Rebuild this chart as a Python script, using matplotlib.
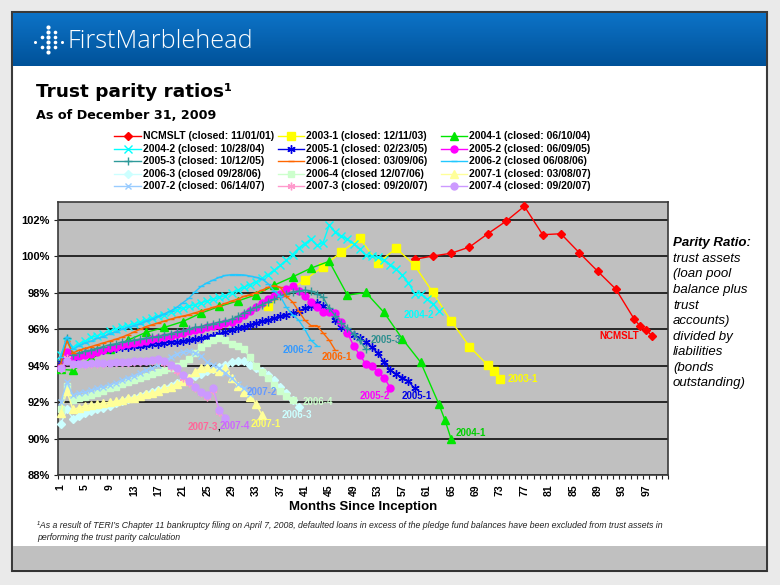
import numpy as np
import matplotlib
matplotlib.use("Agg")
import matplotlib.pyplot as plt
from matplotlib.lines import Line2D
from matplotlib.patches import Rectangle
from matplotlib.ticker import FixedLocator, FuncFormatter

# ---------------- DATA (percent values, month since inception) ----------------
ncmslt_months = [59, 62, 65, 68, 71, 74, 77, 80, 83, 86, 89, 92, 95, 96, 97, 98]
ncmslt_vals = [99.84, 100.02, 100.17, 100.51, 101.24, 101.93, 102.75, 101.19, 101.24,
               100.20, 99.19, 98.20, 96.56, 96.16, 95.96, 95.61]

s2003_1_months = [35, 41, 44, 47, 50, 53, 56, 59, 62, 65, 68, 71, 72, 73]
s2003_1_vals = [97.29, 98.71, 99.44, 100.24, 100.99, 99.64, 100.44, 99.51, 98.02,
                96.45, 95.05, 94.03, 93.72, 93.25]

s2004_1_months = [1, 3, 6, 9, 12, 15, 18, 21, 24, 27, 30, 33, 36, 39, 42, 45, 48, 51,
                  54, 57, 60, 63, 64, 65]
s2004_1_vals = [93.8, 93.75, 94.4, 94.9, 95.4, 95.83, 96.1, 96.42, 96.89, 97.25, 97.55,
                97.89, 98.42, 98.87, 99.35, 99.73, 97.87, 98.02, 96.92, 95.47, 94.19,
                91.88, 91.0, 89.97]

s2004_2_vals = [94.6, 95.3, 95.0, 95.2, 95.35, 95.55, 95.65, 95.75, 95.9, 96.0,
                96.1, 96.2, 96.3, 96.4, 96.5, 96.6, 96.7, 96.8, 96.95, 97.05,
                97.15, 97.25, 97.35, 97.45, 97.55, 97.65, 97.75, 97.85, 98.0, 98.15,
                98.3, 98.45, 98.6, 98.8, 99.0, 99.25, 99.5, 99.8, 100.1, 100.45,
                100.7, 100.95, 100.6, 100.75, 101.7, 101.35, 101.1, 100.95, 100.7, 100.4,
                100.05, 100.0, 99.95, 99.8, 99.55, 99.3, 98.95, 98.55, 97.95, 97.95,
                97.65, 97.4, 97.0]

s2005_1_vals = [94.2, 94.6, 94.4, 94.55, 94.7, 94.75, 94.8, 94.85, 94.9, 94.95,
                95.0, 95.05, 95.1, 95.1, 95.15, 95.2, 95.2, 95.25, 95.3, 95.3,
                95.35, 95.4, 95.45, 95.5, 95.6, 95.65, 95.75, 95.85, 95.95, 96.05,
                96.15, 96.25, 96.35, 96.45, 96.5, 96.6, 96.7, 96.8, 96.9, 97.0,
                97.15, 97.3, 97.45, 97.3, 97.0, 96.5, 96.1, 95.9, 95.7, 95.5,
                95.3, 95.0, 94.7, 94.2, 93.75, 93.55, 93.35, 93.15, 92.75]

s2005_2_vals = [93.95, 94.75, 94.45, 94.55, 94.6, 94.65, 94.75, 94.85, 94.95, 95.05,
                95.15, 95.2, 95.25, 95.3, 95.35, 95.45, 95.5, 95.55, 95.65, 95.75,
                95.8, 95.9, 95.95, 96.0, 96.1, 96.2, 96.25, 96.35, 96.4, 96.55,
                96.8, 97.0, 97.2, 97.45, 97.65, 97.8, 97.95, 98.2, 98.38, 98.1,
                97.8, 97.5, 97.2, 96.95, 96.92, 96.9, 96.4, 95.8, 95.1, 94.6,
                94.1, 94.0, 93.65, 93.35, 92.8]

s2005_3_vals = [94.3, 95.5, 94.6, 94.7, 94.8, 94.85, 94.95, 95.05, 95.15, 95.2,
                95.3, 95.35, 95.4, 95.45, 95.5, 95.55, 95.6, 95.7, 95.75, 95.85,
                95.9, 96.0, 96.1, 96.15, 96.25, 96.3, 96.4, 96.45, 96.55, 96.7,
                96.9, 97.05, 97.2, 97.35, 97.5, 97.65, 97.8, 97.95, 98.05, 98.1,
                98.15, 98.1, 97.95, 97.75, 97.15, 96.75, 96.35, 96.05, 95.75, 95.4,
                94.9]

s2006_1_vals = [94.1, 95.35, 94.7, 94.85, 94.95, 95.05, 95.15, 95.25, 95.35, 95.45,
                95.56, 95.7, 95.85, 96.0, 96.15, 96.25, 96.35, 96.45, 96.55, 96.65,
                96.72, 96.8, 96.9, 97.0, 97.1, 97.2, 97.3, 97.42, 97.55, 97.65,
                97.8, 97.9, 98.0, 98.15, 98.3, 98.4, 98.3, 97.8, 97.5, 97.0,
                96.5, 96.2, 96.2, 95.8, 95.4, 94.85]

s2006_2_vals = [94.5, 95.6, 94.9, 95.1, 95.25, 95.35, 95.5, 95.6, 95.75, 95.85,
                96.0, 96.1, 96.2, 96.3, 96.45, 96.55, 96.7, 96.85, 97.0, 97.2,
                97.45, 97.7, 98.05, 98.35, 98.55, 98.7, 98.85, 98.95, 99.0, 99.0,
                98.98, 98.92, 98.85, 98.75, 98.5, 98.1, 97.8, 97.2, 96.8, 96.5,
                96.0, 95.4, 95.1]

s2006_3_vals = [90.8, 91.6, 91.1, 91.25, 91.4, 91.5, 91.6, 91.7, 91.8, 91.95,
                92.05, 92.15, 92.25, 92.35, 92.45, 92.55, 92.65, 92.8, 92.9, 93.05,
                93.2, 93.35, 93.45, 93.55, 93.7, 93.8, 93.95, 94.05, 94.2, 94.28,
                94.28, 94.05, 93.85, 93.7, 93.5, 93.2, 92.85, 92.5, 92.1, 91.75]

s2006_4_vals = [91.6, 92.9, 92.1, 92.2, 92.3, 92.4, 92.5, 92.6, 92.75, 92.85,
                93.0, 93.1, 93.2, 93.3, 93.45, 93.55, 93.65, 93.75, 93.9, 94.0,
                94.15, 94.35, 94.7, 95.0, 95.25, 95.4, 95.5, 95.4, 95.2, 95.1,
                94.9, 94.45, 94.0, 93.65, 93.3, 92.95, 92.6, 92.35, 92.1]

s2007_1_vals = [91.4, 92.6, 91.6, 91.7, 91.8, 91.85, 91.9, 91.95, 92.0, 92.05,
                92.1, 92.2, 92.25, 92.35, 92.45, 92.5, 92.6, 92.75, 92.85, 93.0,
                93.15, 93.35, 93.65, 93.9, 93.95, 93.85, 93.7, 93.85, 93.3, 92.9,
                92.55, 92.3, 91.9, 91.3]

s2007_2_vals = [92.0, 93.1, 92.4, 92.5, 92.55, 92.65, 92.75, 92.85, 92.95, 93.05,
                93.2, 93.35, 93.45, 93.6, 93.75, 93.9, 94.05, 94.25, 94.45, 94.65,
                94.75, 94.8, 94.7, 94.55, 94.2, 94.05, 93.85, 93.6, 93.3, 93.0,
                92.75, 92.45]

s2007_3_vals = [93.8, 94.4, 94.05, 94.05, 94.05, 94.07, 94.1, 94.1, 94.12, 94.13,
                94.15, 94.17, 94.2, 94.22, 94.24, 94.26, 94.3, 94.15, 93.95, 93.7,
                93.35, 93.05, 92.75, 92.5, 92.3, 92.65, 91.45, 91.1]

s2007_4_vals = [93.85, 94.25, 94.1, 94.1, 94.1, 94.12, 94.14, 94.15, 94.16, 94.18,
                94.2, 94.22, 94.24, 94.26, 94.28, 94.3, 94.38, 94.25, 94.05, 93.85,
                93.5, 93.15, 92.85, 92.55, 92.4, 92.75, 91.55, 91.15]

legend_labels = [
    "NCMSLT (closed: 11/01/01)", "2003-1 (closed: 12/11/03)", "2004-1 (closed: 06/10/04)",
    "2004-2 (closed: 10/28/04)", "2005-1 (closed: 02/23/05)", "2005-2 (closed: 06/09/05)",
    "2005-3 (closed: 10/12/05)", "2006-1 (closed: 03/09/06)", "2006-2 (closed 06/08/06)",
    "2006-3 (closed 09/28/06)", "2006-4 (closed 12/07/06)", "2007-1 (closed: 03/08/07)",
    "2007-2 (closed: 06/14/07)", "2007-3 (closed: 09/20/07)", "2007-4 (closed: 09/20/07)",
]
short_names = ["NCMSLT", "2003-1", "2004-1", "2004-2", "2005-1", "2005-2", "2005-3",
               "2006-1", "2006-2", "2006-3", "2006-4", "2007-1", "2007-2", "2007-3", "2007-4"]

y_ticks = [88, 90, 92, 94, 96, 98, 100, 102]
x_tick_months = list(range(1, 98, 4))

def monthly(v):
    return list(range(1, len(v) + 1))

series_x = [ncmslt_months, s2003_1_months, s2004_1_months, monthly(s2004_2_vals),
            monthly(s2005_1_vals), monthly(s2005_2_vals), monthly(s2005_3_vals),
            monthly(s2006_1_vals), monthly(s2006_2_vals), monthly(s2006_3_vals),
            monthly(s2006_4_vals), monthly(s2007_1_vals), monthly(s2007_2_vals),
            monthly(s2007_3_vals), monthly(s2007_4_vals)]
series_y = [ncmslt_vals, s2003_1_vals, s2004_1_vals, s2004_2_vals, s2005_1_vals,
            s2005_2_vals, s2005_3_vals, s2006_1_vals, s2006_2_vals, s2006_3_vals,
            s2006_4_vals, s2007_1_vals, s2007_2_vals, s2007_3_vals, s2007_4_vals]

# ---------------- STYLE ----------------
AST = (6, 2, 0)
styles = [
    dict(color="#FF0000", marker="D", ms=4.2),
    dict(color="#FFFF00", marker="s", ms=5.5),
    dict(color="#00E600", marker="^", ms=6),
    dict(color="#00FFFF", marker="x", ms=5.5),
    dict(color="#0000E6", marker=AST, ms=6),
    dict(color="#FF00FF", marker="o", ms=5),
    dict(color="#2E9A9A", marker="+", ms=6),
    dict(color="#FF6600", marker="_", ms=5),
    dict(color="#22C8FF", marker="_", ms=5),
    dict(color="#CCFFFF", marker="D", ms=4),
    dict(color="#CCFFCC", marker="s", ms=4.8),
    dict(color="#FFFF99", marker="^", ms=5.5),
    dict(color="#99CCFF", marker="x", ms=5),
    dict(color="#FF99CC", marker=AST, ms=5.5),
    dict(color="#CC99FF", marker="o", ms=5),
]
label_colors = ["#FF0000", "#FFFF00", "#00D000", "#00FFFF", "#0000E6", "#FF00FF", "#2E8F8F",
                "#FF6600", "#3399FF", "#CCFFFF", "#CCFFCC", "#FFFF66", "#6699FF", "#FF6699", "#CC66FF"]
# label offsets in pixels relative to last point (dx, dy), alignment
label_pos = [(-13, 0, "right"), (8, 0, "left"), (4, 6, "left"), (-20, -4, "center"),
             (2, -8, "center"), (-15, -8, "center"), (20, 9, "center"), (2, -7, "center"),
             (-19, -4, "center"), (-2, -8, "center"), (25, -2, "center"), (4, -9, "center"),
             (12, 2, "center"), (-23, -8, "center"), (9, -8, "center")]

W, H = 780, 585
fig = plt.figure(figsize=(7.8, 5.85), dpi=100)
fig.patch.set_facecolor("#EAEAEA")

def fx(x):
    return x / W

def fy(y):
    return 1 - y / H

def rect(x0, y0, x1, y1, z=-10, **kw):
    fig.add_artist(Rectangle((fx(x0), fy(y1)), fx(x1) - fx(x0), fy(y0) - fy(y1),
                             transform=fig.transFigure, zorder=z, **kw))

# slide frame
rect(12, 12, 767, 571, facecolor="white", edgecolor="#3A3A3A", lw=1.5)
rect(13, 546, 766, 569.5, facecolor="#C0C0C0", edgecolor="none")
rect(12, 569.5, 767, 572, facecolor="#333333", edgecolor="none")

# banner gradient
bax = fig.add_axes([fx(13), fy(66), fx(766) - fx(13), fy(13) - fy(66)])
grad = np.linspace(0, 1, 100)[:, None]
top = np.array([0.05, 0.45, 0.78])
bot = np.array([0.0, 0.32, 0.60])
img = top[None, None, :] * (1 - grad[:, :, None]) + bot[None, None, :] * grad[:, :, None]
bax.imshow(img, aspect="auto", extent=[0, 1, 0, 1])
bax.set_axis_off()

# logo dots
dots = [(35, 41.7, 2.2), (41.7, 36.7, 2.6), (41.7, 46.7, 2.6)]
for yy in [26.7, 31.7, 36.7, 41.7, 46.7, 51.7]:
    dots.append((48.3, yy, 3.0))
for yy in [31.7, 36.7, 41.7, 46.7]:
    dots.append((55, yy, 2.6))
dots.append((61.7, 41.7, 2.2))
for (dx_, dy_, s_) in dots:
    fig.add_artist(Line2D([fx(dx_)], [fy(dy_)], transform=fig.transFigure, marker="o",
                          ms=s_, color="white", mec="none", lw=0, zorder=20))
fig.text(fx(68), fy(41), "FirstMarblehead", color="white", fontsize=18.2,
         family=["Open Sans", "DejaVu Sans"], fontweight="light", va="center", ha="left",
         zorder=20)

# titles
fig.text(fx(36), fy(97), "Trust parity ratios\u00b9", fontsize=13.3, fontweight="bold",
         family="DejaVu Sans", va="baseline", ha="left", color="black")
fig.text(fx(36), fy(119), "As of December 31, 2009", fontsize=9.2, fontweight="bold",
         family="DejaVu Sans", va="baseline", ha="left", color="black")

# ---------------- AXES ----------------
ax = fig.add_axes([fx(57.7), fy(475), (667.7 - 57.7) / W, (475 - 201.7) / H])
ax.set_facecolor("#C0C0C0")
ax.set_xlim(0.5, 100.5)
ax.set_ylim(88, 103)
ax.yaxis.set_major_locator(FixedLocator(y_ticks))
ax.yaxis.set_major_formatter(FuncFormatter(lambda v, p: f"{int(round(v))}%"))
ax.xaxis.set_major_locator(FixedLocator(x_tick_months))
ax.xaxis.set_minor_locator(FixedLocator(np.arange(0.5, 101, 1)))
ax.tick_params(axis="x", which="major", length=0, pad=6.5, labelrotation=90, labelsize=7.5)
ax.tick_params(axis="x", which="minor", length=3, direction="out", width=0.8, color="#222222")
ax.tick_params(axis="y", which="major", length=3, direction="out", width=0.8, pad=2.5,
               labelsize=8, color="#222222")
for lab in ax.get_xticklabels() + ax.get_yticklabels():
    lab.set_fontweight("bold")
    lab.set_family("Liberation Sans")
ax.grid(axis="y", color="#1C1C1C", lw=1.3, zorder=1)
ax.set_axisbelow(True)
for sp in ax.spines.values():
    sp.set_color("#3A3A3A")
    sp.set_linewidth(1.2)
ax.set_xlabel("Months Since Inception", fontsize=9.5, fontweight="bold",
              family="Liberation Sans", labelpad=4)

for i, (xs, ys, st) in enumerate(zip(series_x, series_y, styles)):
    c = st["color"]
    ax.plot(xs, ys, color=c, lw=1.0, marker=st["marker"], ms=st["ms"], mec=c, mfc=c,
            mew=1.0, zorder=3 + i, clip_on=False)

for i, (xs, ys) in enumerate(zip(series_x, series_y)):
    dx, dy, ha = label_pos[i]
    ax.annotate(short_names[i], xy=(xs[-1], ys[-1]), xytext=(dx, dy),
                textcoords="offset pixels", ha=ha, va="center", fontsize=7,
                fontweight="bold", color=label_colors[i], family="Liberation Sans",
                zorder=30)
# comma between 2007-3 and 2007-4 labels
ax.annotate(",", xy=(series_x[14][-1], series_y[14][-1]), xytext=(-7, -9),
            textcoords="offset pixels", ha="center", va="center", fontsize=7,
            fontweight="bold", color="black", family="Liberation Sans", zorder=30)

# ---------------- LEGEND (manual, 3 columns x 5 rows) ----------------
col_line_x = [(114, 141), (278, 304), (441, 467)]
row_y = [136, 148.5, 161, 173.5, 186]
for k, text in enumerate(legend_labels):
    r, c = divmod(k, 3)
    x0, x1 = col_line_x[c]
    y = row_y[r]
    st = styles[k]
    ln = Line2D([fx(x0), fx((x0 + x1) / 2), fx(x1)], [fy(y)] * 3, transform=fig.transFigure,
                color=st["color"], lw=1.0, marker=st["marker"], ms=st["ms"],
                mec=st["color"], mfc=st["color"], markevery=[1])
    fig.add_artist(ln)
    fig.text(fx(x1 + 2), fy(y), text, fontsize=7.5, fontweight="bold",
             family="Liberation Sans", va="center", ha="left", color="black")

# ---------------- RIGHT NOTE ----------------
note_lines = ["Parity Ratio:", "trust assets", "(loan pool", "balance plus", "trust",
              "accounts)", "divided by", "liabilities", "(bonds", "outstanding)"]
for j, t in enumerate(note_lines):
    fig.text(fx(673), fy(243.3 + 15.56 * j), t, fontsize=9.5, style="italic",
             fontweight="bold" if j == 0 else "normal", family="Liberation Sans",
             va="center", ha="left", color="black")

# ---------------- FOOTNOTE ----------------
fn1 = ("\u00b9As a result of TERI\u2019s Chapter 11 bankruptcy filing on April 7, 2008, defaulted loans "
       "in excess of the pledge fund balances have been excluded from trust assets in")
fn2 = "performing the trust parity calculation"
fig.text(fx(37), fy(525), fn1, fontsize=6.3, style="italic",
         family=["Liberation Sans Narrow", "Liberation Sans"], va="center", ha="left", color="#222222")
fig.text(fx(37), fy(537), fn2, fontsize=6.3, style="italic",
         family=["Liberation Sans Narrow", "Liberation Sans"], va="center", ha="left", color="#222222")

fig.savefig("out.png", dpi=100, facecolor=fig.get_facecolor())
